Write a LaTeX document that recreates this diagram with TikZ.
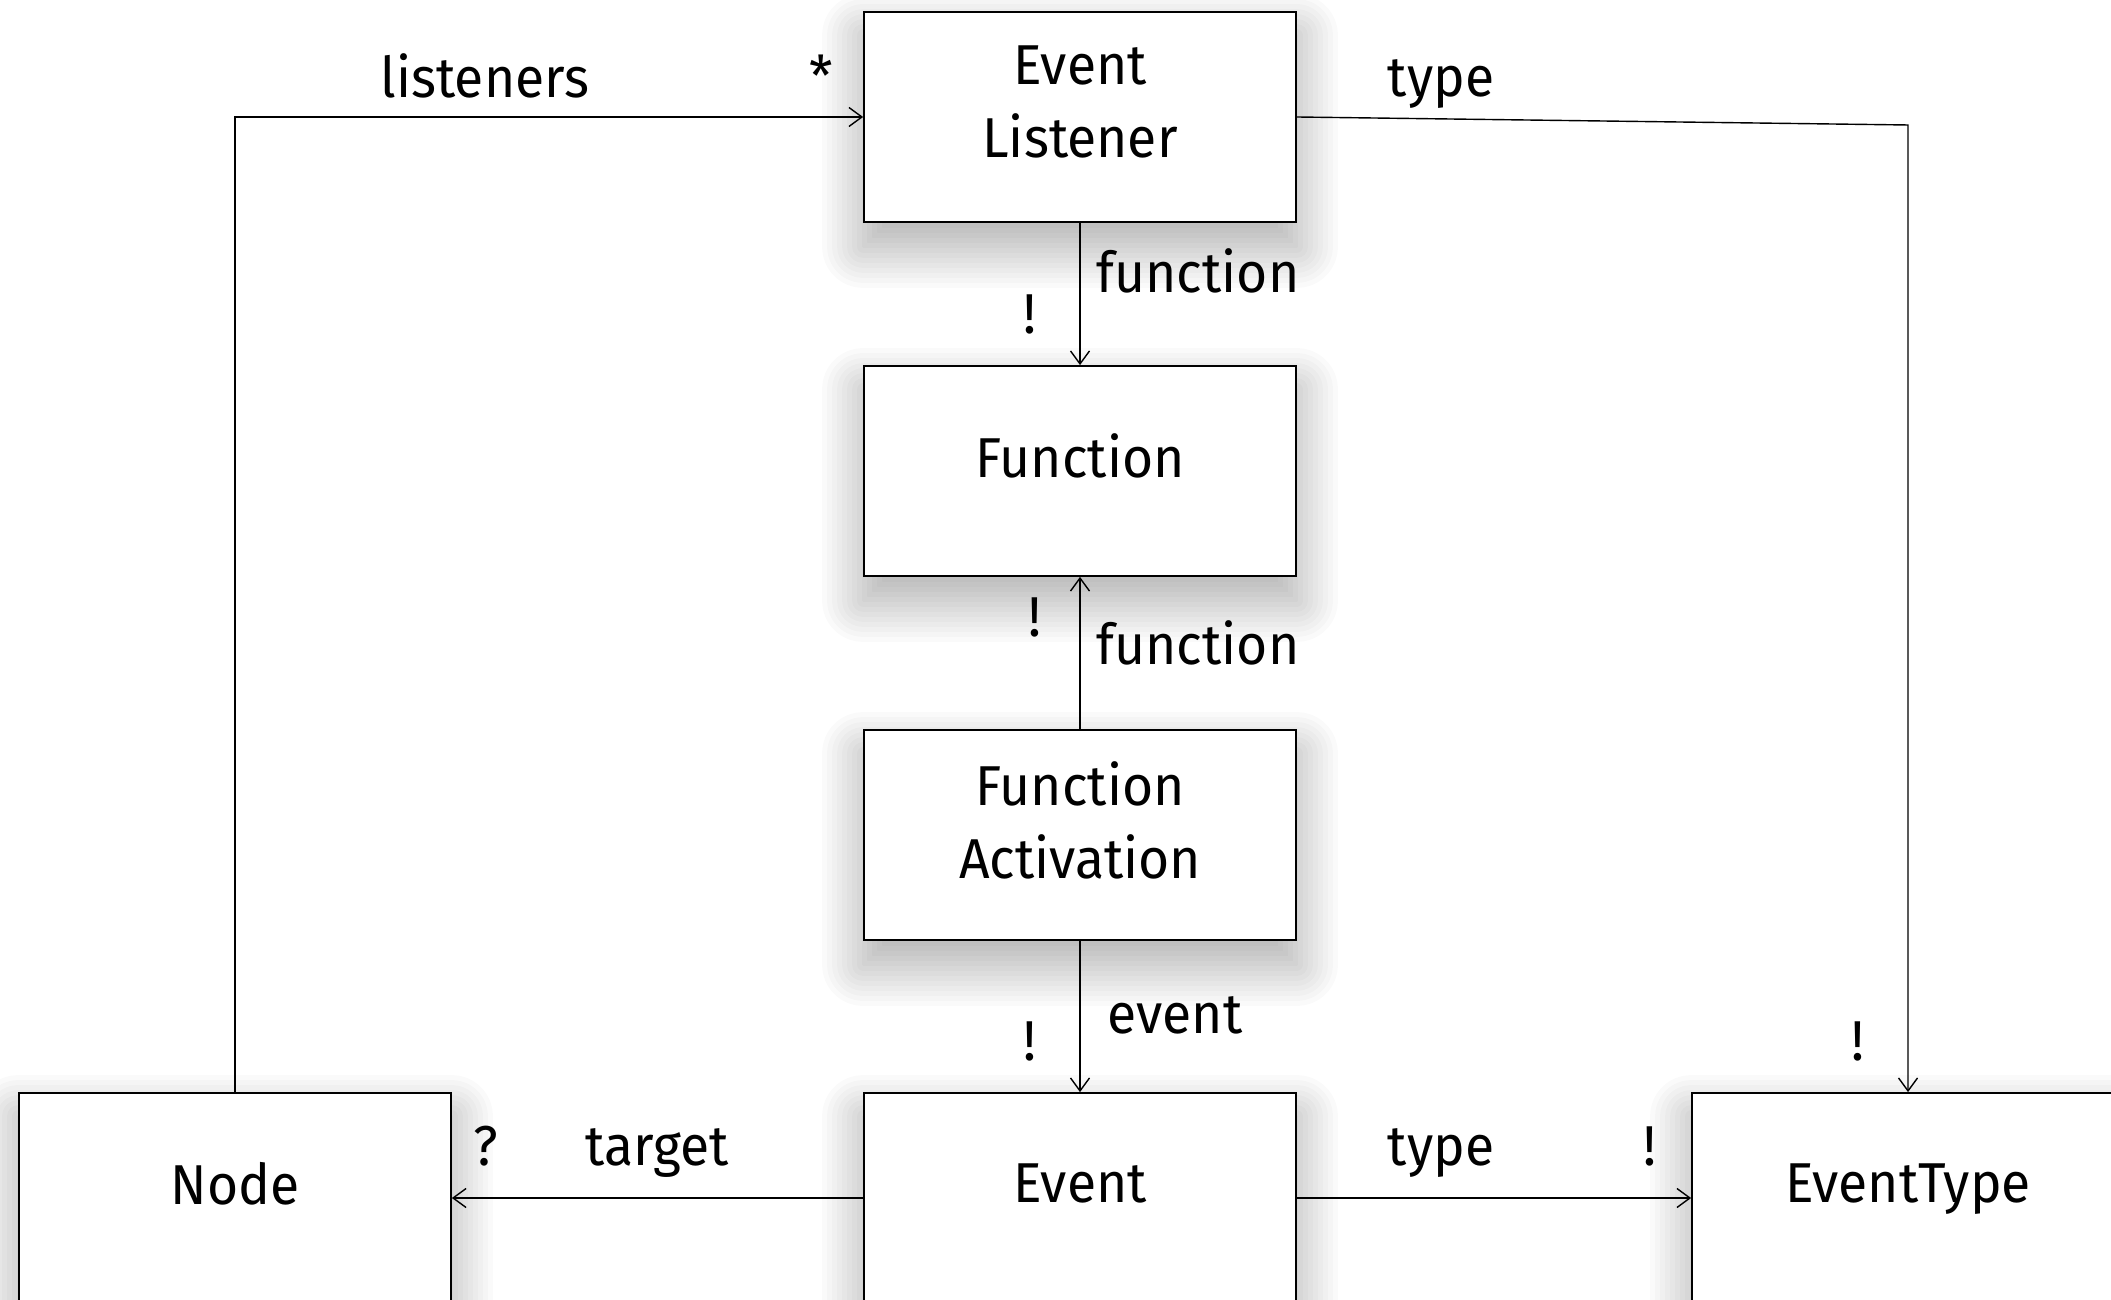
\documentclass[tikz,border=0pt]{standalone}
\usepackage{fontspec}
\setmainfont{Fira Sans}[FakeStretch=0.95]
\usepackage{tikz}
\usetikzlibrary{arrows.meta}
\usetikzlibrary{positioning,backgrounds}
\tikzset{
    classbox/.style={
        draw,
        rectangle,
        fill=white,
        line width=0.5pt,
        minimum width=4.32cm,
        minimum height=2.10cm,
        inner sep=0pt
    },
    boxtext/.style={
        align=center,
        text depth=0pt,
        yshift=1.5mm
    },
    link/.style={
        draw,
        line width=0.4pt,
        -{Straight Barb[length=1.3mm, width=1.9mm]}
    },
    softshadow/.style={
        fill=black,
        opacity=0.021
    },
    every node/.style={font=\fontsize{16}{20.7}\selectfont}
}

\begin{document}
\begin{tikzpicture}
  \clip (0,0) rectangle (21.11,-13.00);

  % Class boxes
  \node[classbox, label={[boxtext]center:Event\\Listener}] (listener) at (10.80,-1.17) {};
  \node[classbox, label={[boxtext]center:Function}] (function) at (10.80,-4.71) {};
  \node[classbox, label={[boxtext]center:Function\\Activation}] (activation) at (10.80,-8.35) {};
  \node[classbox, label={[boxtext]center:Event}] (event) at (10.80,-11.98) {};
  \node[classbox, label={[boxtext]center:Node}] (node) at (2.35,-11.98) {};
  \node[classbox, label={[boxtext]center:EventType}] (eventtype) at (19.08,-11.98) {};

  % Soft shadows under the boxes
  \begin{scope}[on background layer]
    \fill[white] (0,0) rectangle (21.11,-13.00);
    \foreach \boxname in {listener,function,activation,event,node,eventtype}{
      \foreach \r in {-3.9,-3.4,...,4.2}{
        \pgfmathsetmacro\rc{max(\r,0.05)}
        \fill[softshadow, rounded corners=\rc mm]
          ([xshift=-\r mm, yshift=-2.4mm-\r mm]\boxname.south west)
          rectangle ([xshift=\r mm, yshift=-2.4mm+\r mm]\boxname.north east);
      }
    }
  \end{scope}

  % Associations
  \coordinate (typecorner) at (19.08,-1.25);
  \draw[link] (node.north) |- (listener.west);
  \draw[link] (listener.east) -- (typecorner) -- (eventtype.north);
  \draw[link] (listener.south) -- (function.north);
  \draw[link] (activation.north) -- (function.south);
  \draw[link] (activation.south) -- (event.north);
  \draw[link] (event.west) -- (node.east);
  \draw[link] (event.east) -- (eventtype.west);

  % Role names
  \node (listenerslabel) at (4.85,-0.76) {listeners};
  \node (typetoplabel) at (14.41,-0.84) {type};
  \node (functiontoplabel) at (11.98,-2.71) {function};
  \node (functionmidlabel) at (11.98,-6.43) {function};
  \node (eventlabel) at (11.75,-10.15) {event};
  \node (targetlabel) at (6.57,-11.53) {target};
  \node (typebottomlabel) at (14.41,-11.53) {type};

  % Multiplicities
  \node (mstar) at (8.21,-0.76) {*};
  \node (mtypetop) at (18.58,-10.41) {!};
  \node (mfunctiontop) at (10.30,-3.14) {!};
  \node (mfunctionmid) at (10.35,-6.17) {!};
  \node (mevent) at (10.30,-10.41) {!};
  \node (mtarget) at (4.86,-11.46) {?};
  \node (mtypebottom) at (16.50,-11.46) {!};
\end{tikzpicture}
\end{document}
